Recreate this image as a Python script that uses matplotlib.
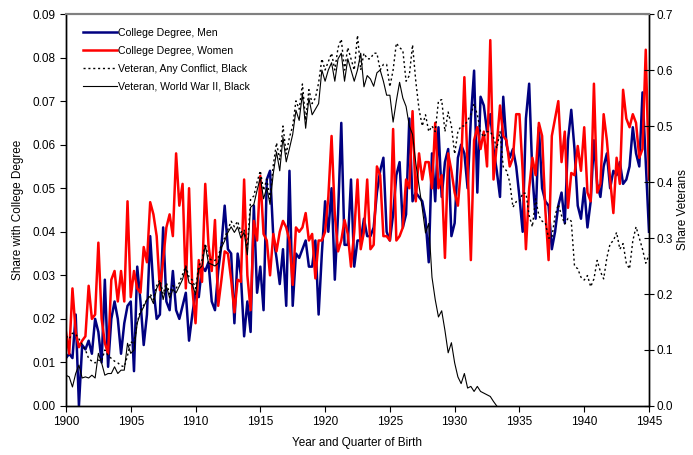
import numpy as np
import matplotlib.pyplot as plt

plt.rcParams["font.family"] = ["Liberation Sans", "DejaVu Sans"]
plt.rcParams["font.size"] = 8.5

# quarterly birth cohorts 1900q1 .. 1945q1
quarters = 1900 + np.arange(181) * 0.25

# share with college degree, men (left axis)
men = [
    0.011, 0.012, 0.011, 0.021,  # 1900
    0.000, 0.014, 0.013, 0.015,
    0.012, 0.020, 0.017, 0.010,
    0.029, 0.009, 0.020, 0.024,
    0.020, 0.012, 0.019, 0.023,
    0.024, 0.008, 0.032, 0.024,  # 1905
    0.014, 0.021, 0.039, 0.027,
    0.020, 0.021, 0.041, 0.024,
    0.022, 0.031, 0.022, 0.020,
    0.023, 0.026, 0.015, 0.021,
    0.026, 0.025, 0.032, 0.031,  # 1910
    0.033, 0.024, 0.022, 0.031,
    0.037, 0.046, 0.036, 0.035,
    0.019, 0.035, 0.030, 0.016,
    0.024, 0.017, 0.046, 0.026,
    0.032, 0.022, 0.052, 0.054,  # 1915
    0.039, 0.034, 0.028, 0.036,
    0.023, 0.054, 0.023, 0.035,
    0.034, 0.036, 0.038, 0.032,
    0.032, 0.038, 0.021, 0.035,
    0.047, 0.040, 0.050, 0.029,  # 1920
    0.044, 0.065, 0.037, 0.037,
    0.052, 0.032, 0.038, 0.038,
    0.043, 0.039, 0.039, 0.041,
    0.049, 0.054, 0.057, 0.040,
    0.038, 0.044, 0.053, 0.056,  # 1925
    0.041, 0.044, 0.066, 0.047,
    0.049, 0.048, 0.047, 0.043,
    0.033, 0.058, 0.047, 0.064,
    0.048, 0.056, 0.059, 0.039,
    0.042, 0.057, 0.060, 0.058,  # 1930
    0.050, 0.066, 0.077, 0.049,
    0.071, 0.069, 0.063, 0.067,
    0.059, 0.054, 0.048, 0.071,
    0.060, 0.057, 0.059, 0.055,
    0.048, 0.040, 0.066, 0.074,  # 1935
    0.053, 0.043, 0.064, 0.050,
    0.047, 0.046, 0.036, 0.040,
    0.046, 0.049, 0.042, 0.061,
    0.068, 0.059, 0.046, 0.043,
    0.050, 0.041, 0.047, 0.061,  # 1940
    0.051, 0.048, 0.055, 0.058,
    0.050, 0.054, 0.053, 0.056,
    0.051, 0.052, 0.055, 0.064,
    0.058, 0.055, 0.072, 0.056,
    0.040,                       # 1945
]

# share with college degree, women (left axis)
women = [
    0.017, 0.012, 0.027, 0.017,  # 1900
    0.0135, 0.015, 0.016, 0.0276,
    0.020, 0.021, 0.0375, 0.020,
    0.0145, 0.012, 0.029, 0.031,
    0.024, 0.031, 0.024, 0.047,
    0.025, 0.031, 0.027, 0.026,  # 1905
    0.0365, 0.033, 0.0468, 0.044,
    0.039, 0.0266, 0.0335, 0.041,
    0.044, 0.039, 0.058, 0.046,
    0.051, 0.027, 0.050, 0.027,
    0.019, 0.0335, 0.0285, 0.051,  # 1910
    0.037, 0.031, 0.0427, 0.023,
    0.029, 0.0355, 0.035, 0.029,
    0.0215, 0.029, 0.0285, 0.052,
    0.030, 0.022, 0.0425, 0.038,
    0.0528, 0.0395, 0.038, 0.030,  # 1915
    0.0395, 0.0355, 0.040, 0.0425,
    0.041, 0.038, 0.0278, 0.041,
    0.040, 0.041, 0.0443, 0.038,
    0.0395, 0.0293, 0.038, 0.038,
    0.040, 0.048, 0.062, 0.044,  # 1920
    0.0355, 0.038, 0.0427, 0.0395,
    0.032, 0.040, 0.052, 0.036,
    0.040, 0.052, 0.036, 0.037,
    0.055, 0.053, 0.039, 0.039,
    0.038, 0.0636, 0.038, 0.039,  # 1925
    0.041, 0.052, 0.050, 0.0677,
    0.047, 0.058, 0.052, 0.056,
    0.056, 0.050, 0.065, 0.050,
    0.053, 0.034, 0.058, 0.054,
    0.049, 0.046, 0.055, 0.0755,  # 1930
    0.055, 0.0335, 0.061, 0.064,
    0.059, 0.063, 0.055, 0.084,
    0.052, 0.060, 0.069, 0.062,
    0.061, 0.055, 0.057, 0.067,
    0.067, 0.054, 0.036, 0.050,  # 1935
    0.057, 0.053, 0.065, 0.062,
    0.045, 0.0335, 0.062, 0.066,
    0.070, 0.056, 0.063, 0.0455,
    0.0535, 0.053, 0.0597, 0.054,
    0.064, 0.049, 0.047, 0.074,  # 1940
    0.049, 0.051, 0.067, 0.061,
    0.052, 0.0443, 0.057, 0.051,
    0.0726, 0.066, 0.064, 0.067,
    0.065, 0.057, 0.059, 0.0818,
    0.052,                       # 1945
]

# share veterans of any conflict, black men (right axis)
vet_any = [
    0.125, 0.120, 0.130, 0.128,  # 1900
    0.120, 0.110, 0.100, 0.085,
    0.080, 0.077, 0.082, 0.080,
    0.100, 0.090, 0.085, 0.080,
    0.077, 0.072, 0.070, 0.090,
    0.115, 0.110, 0.150, 0.170,  # 1905
    0.180, 0.190, 0.200, 0.190,
    0.215, 0.225, 0.200, 0.220,
    0.200, 0.215, 0.210, 0.220,
    0.235, 0.250, 0.230, 0.225,
    0.210, 0.250, 0.260, 0.290,  # 1910
    0.265, 0.260, 0.260, 0.265,
    0.290, 0.300, 0.315, 0.330,
    0.320, 0.330, 0.310, 0.315,
    0.280, 0.370, 0.375, 0.400,
    0.420, 0.385, 0.405, 0.370,  # 1915
    0.430, 0.470, 0.440, 0.500,
    0.450, 0.480, 0.500, 0.545,
    0.530, 0.575, 0.510, 0.565,
    0.540, 0.550, 0.577, 0.620,
    0.600, 0.615, 0.630, 0.600,  # 1920
    0.640, 0.655, 0.600, 0.640,
    0.620, 0.600, 0.662, 0.600,
    0.630, 0.620, 0.620, 0.630,
    0.630, 0.600, 0.610, 0.610,
    0.570, 0.600, 0.648, 0.640,  # 1925
    0.635, 0.580, 0.590, 0.645,
    0.580, 0.530, 0.500, 0.520,
    0.490, 0.500, 0.490, 0.545,
    0.547, 0.490, 0.525, 0.500,
    0.450, 0.490, 0.500, 0.500,  # 1930
    0.510, 0.520, 0.540, 0.520,
    0.490, 0.480, 0.490, 0.490,
    0.480, 0.460, 0.490, 0.427,
    0.420, 0.400, 0.355, 0.365,
    0.365, 0.380, 0.380, 0.340,  # 1935
    0.320, 0.370, 0.340, 0.330,
    0.327, 0.300, 0.300, 0.340,
    0.360, 0.340, 0.325, 0.335,
    0.330, 0.250, 0.245, 0.230,
    0.225, 0.233, 0.213, 0.227,  # 1940
    0.260, 0.240, 0.227, 0.265,
    0.290, 0.295, 0.310, 0.280,
    0.290, 0.255, 0.245, 0.295,
    0.320, 0.300, 0.280, 0.255,
    0.270,                       # 1945
]

# share veterans of World War II, black men (right axis), ends 1933q2
vet_wwii = [
    0.055, 0.052, 0.034, 0.058,  # 1900
    0.073, 0.050, 0.052, 0.050,
    0.055, 0.050, 0.094, 0.077,
    0.055, 0.058, 0.058, 0.070,
    0.058, 0.064, 0.064, 0.112,
    0.094, 0.100, 0.148, 0.166,  # 1905
    0.177, 0.190, 0.196, 0.183,
    0.210, 0.221, 0.190, 0.214,
    0.193, 0.208, 0.202, 0.214,
    0.226, 0.248, 0.220, 0.217,
    0.199, 0.244, 0.250, 0.287,  # 1910
    0.255, 0.253, 0.250, 0.255,
    0.283, 0.295, 0.310, 0.320,
    0.310, 0.320, 0.300, 0.310,
    0.270, 0.355, 0.360, 0.385,
    0.408, 0.370, 0.390, 0.360,  # 1915
    0.415, 0.454, 0.420, 0.480,
    0.436, 0.460, 0.485, 0.528,
    0.510, 0.558, 0.496, 0.550,
    0.520, 0.530, 0.540, 0.600,
    0.580, 0.600, 0.613, 0.580,  # 1920
    0.620, 0.630, 0.580, 0.620,
    0.600, 0.580, 0.600, 0.630,
    0.570, 0.590, 0.584, 0.571,
    0.595, 0.600, 0.580, 0.555,
    0.555, 0.507, 0.545, 0.578,  # 1925
    0.550, 0.535, 0.500, 0.485,
    0.434, 0.393, 0.353, 0.309,
    0.326, 0.230, 0.190, 0.159,
    0.170, 0.135, 0.095, 0.113,
    0.077, 0.052, 0.040, 0.058,  # 1930
    0.032, 0.035, 0.026, 0.035,
    0.026, 0.023, 0.020, 0.017,
    0.008, 0.000,
]

fig = plt.figure(figsize=(6.93, 4.55), dpi=100)
ax = fig.add_axes([0.0952, 0.1077, 0.8413, 0.8615])
ax2 = ax.twinx()

l1, = ax.plot(quarters, men, color="#000080", lw=1.8, label="College Degree, Men")
l2, = ax.plot(quarters, women, color="#FF0000", lw=1.8, label="College Degree, Women")
l3, = ax2.plot(quarters, vet_any, color="black", lw=1.0, ls=(0, (1.5, 2)),
               label="Veteran, Any Conflict, Black")
l4, = ax2.plot(quarters[:len(vet_wwii)], vet_wwii, color="black", lw=0.8,
               label="Veteran, World War II, Black")

ax.set_xlim(1900, 1945)
ax.set_ylim(0, 0.09)
ax2.set_ylim(0, 0.7)
ax.set_xticks(np.arange(1900, 1946, 5))
ax.set_yticks(np.arange(0, 0.0901, 0.01))
ax.set_yticklabels([f"{v:.2f}" for v in np.arange(0, 0.0901, 0.01)])
ax2.set_yticks(np.arange(0, 0.701, 0.1))
ax2.set_yticklabels([f"{v:.1f}" for v in np.arange(0, 0.701, 0.1)])

ax.tick_params(axis="x", direction="out", length=4, width=0.8)
ax.tick_params(axis="y", direction="out", length=4, width=0.8)
ax2.tick_params(axis="y", direction="inout", length=7, width=0.8, pad=2)

for a in (ax, ax2):
    a.spines["top"].set_color("#808080")
    a.spines["top"].set_linewidth(1.5)
    for s in ("left", "right", "bottom"):
        a.spines[s].set_linewidth(1.0)

ax.set_xlabel("Year and Quarter of Birth", labelpad=6)
ax.set_ylabel("Share with College Degree", labelpad=6)
ax2.set_ylabel("Share Veterans", labelpad=3)

ax2.legend(handles=[l1, l2, l3, l4], loc="upper left", frameon=False,
           fontsize=7.6, handlelength=3.2, handletextpad=0.15, labelspacing=0.75,
           borderaxespad=0, bbox_to_anchor=(0.022, 0.975))

fig.savefig("out.png", dpi=100)
